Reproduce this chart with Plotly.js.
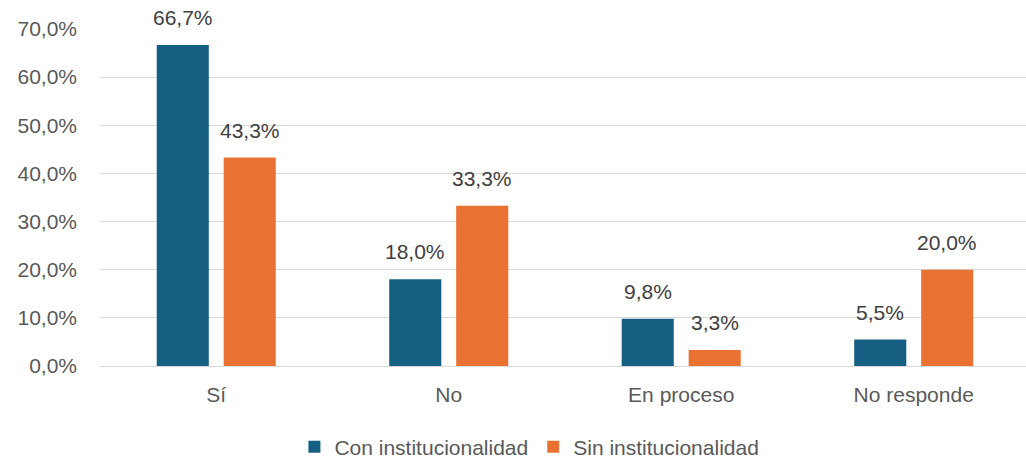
<!DOCTYPE html>
<html>
<head>
<meta charset="utf-8">
<script src="https://cdn.plot.ly/plotly-3.0.1.min.js"></script>
<style>html,body{margin:0;padding:0;background:#fff;}#chart{width:1026px;height:462px;}</style>
</head>
<body>
<div id="chart"></div>
<script>
const categories = ["Sí", "No", "En proceso", "No responde"];
const seriesNames = ["Con institucionalidad", "Sin institucionalidad"];
const conInstitucionalidad = [66.7, 18.0, 9.8, 5.5];
const sinInstitucionalidad = [43.3, 33.3, 3.3, 20.0];
const yTickValues = [0, 10, 20, 30, 40, 50, 60, 70];

const FONT = '"Liberation Sans", Arial, sans-serif';
const textColor = '#595959';
const labelColor = '#404040';
const fmt = v => v.toFixed(1).replace('.', ',') + '%';

// bar geometry (category units)
const BAR_W = 0.224;
const OFFSETS = [-0.256, 0.032];

const series = [conInstitucionalidad, sinInstitucionalidad];
const colors = ['#156082', '#E97132'];

const traces = series.map((vals, s) => ({
  type: 'bar', name: seriesNames[s], x: categories, y: vals,
  width: BAR_W, offset: OFFSETS[s],
  marker: {color: colors[s]},
  hoverinfo: 'skip'
}));

const annotations = [];
series.forEach((vals, s) => {
  vals.forEach((v, i) => {
    annotations.push({
      x: i + OFFSETS[s] + BAR_W / 2, y: v, xref: 'x', yref: 'y',
      text: fmt(v), showarrow: false, yanchor: 'bottom', yshift: 14,
      font: {family: FONT, size: 21, color: labelColor}
    });
  });
});

const layout = {
  width: 1026, height: 462,
  margin: {l: 100, r: 0, t: 29, b: 96},
  paper_bgcolor: '#ffffff', plot_bgcolor: '#ffffff',
  barmode: 'group',
  font: {family: FONT, size: 21, color: textColor},
  showlegend: true,
  legend: {
    orientation: 'h', x: 0.516, xanchor: 'center',
    xref: 'container', yref: 'container', y: 0.032, yanchor: 'middle',
    font: {family: FONT, size: 21, color: textColor},
    traceorder: 'normal', itemwidth: 30
  },
  annotations: annotations,
  xaxis: {
    type: 'category', range: [-0.5, 3.483],
    showgrid: false, showline: true, linecolor: '#d9d9d9', linewidth: 1,
    ticks: '', ticklabelstandoff: 10,
    tickfont: {family: FONT, size: 21, color: textColor}
  },
  yaxis: {
    range: [0, 70], tickmode: 'array', tickvals: yTickValues,
    ticktext: yTickValues.map(fmt),
    showgrid: true, gridcolor: '#d9d9d9', gridwidth: 1,
    zeroline: false, showline: false, ticks: '',
    ticklabelstandoff: 22,
    tickfont: {family: FONT, size: 21, color: textColor}
  }
};

Plotly.newPlot('chart', traces, layout, {staticPlot: true, displayModeBar: false});
</script>
</body>
</html>
